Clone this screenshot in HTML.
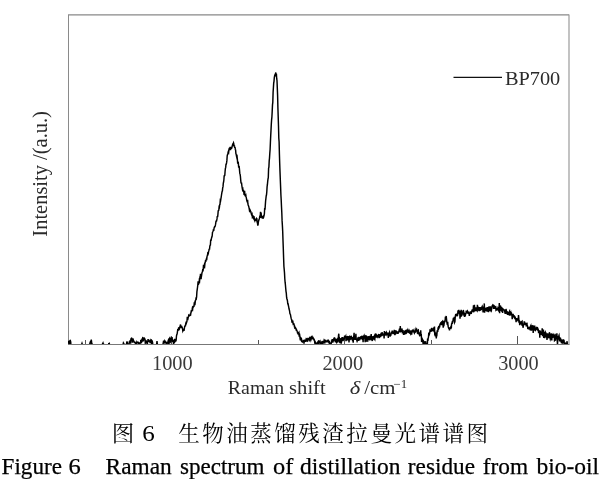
<!DOCTYPE html>
<html><head><meta charset="utf-8"><style>
html,body{margin:0;padding:0;background:#fff;}
body{width:600px;height:479px;overflow:hidden;position:relative;}
svg{position:absolute;left:0;top:0;}
.t{font-family:"Liberation Serif","Noto Serif CJK SC",serif;fill:#000;filter:grayscale(1);}
</style></head><body>
<svg width="600" height="479" viewBox="0 0 600 479">
<defs><clipPath id="c"><rect x="68" y="14" width="501" height="330"/></clipPath></defs>
<g fill="none" stroke-linecap="butt">
<line x1="68.5" y1="14.9" x2="569" y2="14.9" stroke="#888" stroke-width="1.1"/>
<line x1="68.5" y1="14.4" x2="68.5" y2="344.5" stroke="#8a8a8a" stroke-width="1"/>
<line x1="569" y1="14.4" x2="569" y2="344.5" stroke="#9a9a9a" stroke-width="1.2"/>
<line x1="68" y1="344.5" x2="569.5" y2="344.5" stroke="#777" stroke-width="1"/>
<g stroke="#555" stroke-width="1">
<line x1="171.5" y1="344" x2="171.5" y2="336"/>
<line x1="344.5" y1="344" x2="344.5" y2="336"/>
<line x1="517.5" y1="344" x2="517.5" y2="336"/>
<line x1="85.5" y1="344" x2="85.5" y2="340"/>
<line x1="258.5" y1="344" x2="258.5" y2="340"/>
<line x1="431.5" y1="344" x2="431.5" y2="340"/>
</g>
<polyline clip-path="url(#c)" points="68.5,343.9 68.8,340.8 69.1,342.6 69.4,343.0 69.7,343.6 70.0,340.5 70.3,340.4 70.6,341.5 70.9,343.7 71.2,344.6 71.5,345.5 71.8,345.5 72.1,345.5 72.4,345.5 72.7,345.5 73.0,345.5 73.3,345.5 73.6,345.5 73.9,345.5 74.2,345.5 74.5,345.5 74.8,345.5 75.1,345.5 75.4,345.5 75.7,345.5 76.0,345.5 76.3,345.5 76.6,345.5 76.9,345.5 77.2,345.5 77.5,345.5 77.8,345.5 78.1,345.5 78.4,345.5 78.7,345.5 79.0,345.5 79.3,345.5 79.6,345.5 79.9,345.5 80.2,345.5 80.5,345.5 80.8,345.5 81.1,345.5 81.4,344.9 81.7,344.2 82.0,343.3 82.3,344.3 82.6,344.9 82.9,345.5 83.2,345.5 83.5,345.5 83.8,345.5 84.1,345.5 84.4,345.5 84.7,345.5 85.0,345.5 85.3,345.5 85.6,345.5 85.9,345.5 86.2,345.5 86.5,345.5 86.8,345.5 87.1,345.5 87.4,345.5 87.7,345.5 88.0,345.5 88.3,345.5 88.6,345.5 88.9,345.5 89.2,344.8 89.5,344.2 89.8,344.0 90.1,342.5 90.4,341.8 90.7,342.1 91.0,342.7 91.3,339.6 91.6,342.2 91.9,343.2 92.2,344.6 92.5,345.5 92.8,345.5 93.1,345.5 93.4,345.5 93.7,345.5 94.0,345.5 94.3,345.5 94.6,345.5 94.9,345.5 95.2,345.5 95.5,345.5 95.8,345.5 96.1,345.5 96.4,345.5 96.7,345.5 97.0,345.5 97.3,345.5 97.6,345.5 97.9,345.5 98.2,345.5 98.5,345.5 98.8,345.5 99.1,345.5 99.4,345.5 99.7,345.5 100.0,345.5 100.3,345.5 100.6,345.5 100.9,345.5 101.2,345.5 101.5,345.5 101.8,345.5 102.1,344.7 102.4,344.2 102.7,343.5 103.0,342.9 103.3,344.0 103.6,344.1 103.9,344.7 104.2,345.5 104.5,345.5 104.8,345.5 105.1,345.5 105.4,345.5 105.7,345.5 106.0,345.5 106.3,345.5 106.6,345.5 106.9,345.5 107.2,345.5 107.5,345.5 107.8,345.5 108.1,344.7 108.4,344.6 108.7,343.8 109.0,344.0 109.3,343.6 109.6,344.5 109.9,344.7 110.2,345.5 110.5,345.5 110.8,345.5 111.1,345.5 111.4,345.5 111.7,345.5 112.0,345.5 112.3,345.5 112.6,345.5 112.9,345.5 113.2,345.5 113.5,345.5 113.8,345.5 114.1,345.5 114.4,345.5 114.7,345.5 115.0,345.5 115.3,345.5 115.6,345.5 115.9,345.5 116.2,345.5 116.5,345.5 116.8,345.5 117.1,345.5 117.4,345.5 117.7,345.5 118.0,345.5 118.3,345.5 118.6,345.5 118.9,345.5 119.2,345.5 119.5,345.5 119.8,345.5 120.1,345.5 120.4,345.5 120.7,345.5 121.0,345.5 121.3,345.5 121.6,345.5 121.9,345.5 122.2,345.5 122.5,345.5 122.8,344.7 123.1,344.4 123.4,342.9 123.7,343.4 124.0,343.8 124.3,345.3 124.6,345.5 124.9,345.5 125.2,345.5 125.5,345.5 125.8,345.5 126.1,345.5 126.4,344.3 126.7,342.7 127.0,341.4 127.3,342.7 127.6,344.1 127.9,345.5 128.2,345.5 128.5,344.7 128.8,344.0 129.1,343.5 129.4,341.4 129.7,343.3 130.0,340.8 130.3,340.6 130.6,343.7 130.9,338.9 131.2,338.5 131.5,339.7 131.8,339.3 132.1,339.0 132.4,342.7 132.7,340.4 133.0,340.6 133.3,339.8 133.6,340.5 133.9,341.0 134.2,342.2 134.5,342.2 134.8,342.5 135.1,342.4 135.4,343.5 135.7,344.3 136.0,343.8 136.3,343.1 136.6,343.9 136.9,342.0 137.2,342.5 137.5,342.3 137.8,342.3 138.1,342.3 138.4,343.1 138.7,344.5 139.0,343.6 139.3,344.2 139.6,344.2 139.9,343.3 140.2,342.2 140.5,343.7 140.8,339.8 141.1,341.7 141.4,343.2 141.7,341.4 142.0,338.6 142.3,341.7 142.6,338.3 142.9,337.0 143.2,339.5 143.5,340.3 143.8,339.8 144.1,338.7 144.4,338.4 144.7,339.2 145.0,339.2 145.3,343.2 145.6,342.7 145.9,342.1 146.2,340.3 146.5,342.3 146.8,341.1 147.1,344.2 147.4,343.6 147.7,342.0 148.0,339.8 148.3,339.8 148.6,340.0 148.9,341.9 149.2,340.9 149.5,341.2 149.8,341.3 150.1,343.2 150.4,339.9 150.7,342.7 151.0,339.8 151.3,340.0 151.6,344.2 151.9,341.7 152.2,341.3 152.5,342.2 152.8,343.9 153.1,344.8 153.4,345.5 153.7,345.5 154.0,345.5 154.3,345.5 154.6,345.5 154.9,345.5 155.2,345.5 155.5,345.5 155.8,345.5 156.1,345.5 156.4,344.5 156.7,343.8 157.0,341.1 157.3,343.8 157.6,344.4 157.9,345.5 158.2,345.5 158.5,345.5 158.8,345.5 159.1,345.5 159.4,345.5 159.7,345.5 160.0,345.5 160.3,345.5 160.6,345.5 160.9,345.5 161.2,345.5 161.5,345.5 161.8,345.5 162.1,345.5 162.4,345.5 162.7,345.3 163.0,344.3 163.3,342.6 163.6,340.6 163.9,343.4 164.2,341.0 164.5,341.9 164.8,340.8 165.1,341.3 165.4,342.9 165.7,341.5 166.0,343.2 166.3,344.5 166.6,344.6 166.9,343.4 167.2,342.7 167.5,342.4 167.8,342.8 168.1,341.1 168.4,341.2 168.7,338.5 169.0,344.4 169.3,338.8 169.6,338.3 169.9,342.6 170.2,337.8 170.5,338.7 170.8,337.7 171.1,341.1 171.4,340.5 171.7,340.3 172.0,337.0 172.3,339.3 172.6,340.8 172.9,340.6 173.2,341.7 173.5,343.6 173.8,343.2 174.1,339.9 174.4,342.0 174.7,338.8 175.0,341.7 175.3,341.3 175.6,339.3 175.9,341.4 176.2,339.4 176.5,335.8 176.8,334.6 177.1,334.1 177.4,332.2 177.7,330.0 178.0,330.2 178.3,330.1 178.6,327.9 178.9,327.7 179.2,327.8 179.5,328.5 179.8,326.8 180.1,326.5 180.4,324.5 180.7,325.4 181.0,326.5 181.3,328.2 181.6,325.8 181.9,327.1 182.2,327.6 182.5,328.6 182.8,330.9 183.1,330.2 183.4,331.1 183.7,328.9 184.0,330.9 184.3,329.0 184.6,326.9 184.9,326.0 185.2,325.5 185.5,325.6 185.8,323.4 186.1,323.6 186.4,321.3 186.7,322.1 187.0,321.1 187.3,316.8 187.6,318.7 187.9,319.0 188.2,317.4 188.5,316.5 188.8,315.1 189.1,315.4 189.4,316.4 189.7,314.7 190.0,315.9 190.3,314.5 190.6,314.7 190.9,312.8 191.2,311.3 191.5,311.6 191.8,311.1 192.1,309.7 192.4,308.1 192.7,308.8 193.0,306.4 193.3,307.6 193.6,305.9 193.9,307.0 194.2,303.7 194.5,304.0 194.8,302.6 195.1,303.2 195.4,300.7 195.7,299.9 196.0,298.5 196.3,298.8 196.6,297.0 196.9,291.9 197.2,289.6 197.5,287.5 197.8,285.0 198.1,281.4 198.4,283.5 198.7,283.8 199.0,283.1 199.3,280.3 199.6,280.9 199.9,277.4 200.2,277.5 200.5,273.9 200.8,275.7 201.1,279.2 201.4,273.9 201.7,274.7 202.0,272.7 202.3,271.9 202.6,270.5 202.9,270.9 203.2,270.2 203.5,264.7 203.8,268.5 204.1,267.1 204.4,265.1 204.7,265.8 205.0,262.9 205.3,262.1 205.6,260.2 205.9,261.7 206.2,259.4 206.5,258.6 206.8,258.9 207.1,256.0 207.4,255.7 207.7,253.9 208.0,254.4 208.3,253.6 208.6,251.4 208.9,250.5 209.2,248.8 209.5,249.7 209.8,246.4 210.1,245.2 210.4,245.0 210.7,239.5 211.0,240.8 211.3,239.2 211.6,237.6 211.9,236.9 212.2,235.8 212.5,232.3 212.8,231.8 213.1,231.0 213.4,229.5 213.7,230.8 214.0,228.7 214.3,227.3 214.6,226.8 214.9,226.8 215.2,226.1 215.5,224.7 215.8,222.7 216.1,220.5 216.4,221.6 216.7,220.3 217.0,218.9 217.3,216.0 217.6,217.2 217.9,214.6 218.2,210.9 218.5,210.6 218.8,210.2 219.1,206.9 219.4,207.2 219.7,204.7 220.0,204.4 220.3,200.3 220.6,200.7 220.9,198.9 221.2,197.1 221.5,195.0 221.8,193.2 222.1,191.4 222.4,190.9 222.7,187.7 223.0,186.9 223.3,183.1 223.6,182.0 223.9,179.8 224.2,175.2 224.5,175.9 224.8,175.4 225.1,171.2 225.4,168.5 225.7,167.4 226.0,164.2 226.3,164.1 226.6,162.7 226.9,160.4 227.2,155.8 227.5,154.6 227.8,154.3 228.1,152.1 228.4,151.3 228.7,152.0 229.0,149.3 229.3,149.4 229.6,147.5 229.9,149.3 230.2,146.9 230.5,150.1 230.8,146.7 231.1,148.4 231.4,148.4 231.7,148.3 232.0,147.1 232.3,145.7 232.6,144.7 232.9,145.0 233.2,143.6 233.5,142.8 233.8,143.9 234.1,146.5 234.4,145.3 234.7,147.9 235.0,147.0 235.3,149.2 235.6,149.9 235.9,153.6 236.2,154.4 236.5,156.2 236.8,157.5 237.1,156.8 237.4,159.6 237.7,163.6 238.0,161.6 238.3,162.7 238.6,166.3 238.9,166.0 239.2,166.4 239.5,169.9 239.8,173.4 240.1,174.2 240.4,176.3 240.7,179.9 241.0,182.8 241.3,183.3 241.6,183.3 241.9,186.0 242.2,187.8 242.5,189.5 242.8,189.0 243.1,191.7 243.4,190.0 243.7,191.3 244.0,194.0 244.3,193.8 244.6,190.8 244.9,195.2 245.2,195.7 245.5,195.5 245.8,195.0 246.1,196.9 246.4,198.2 246.7,200.2 247.0,201.2 247.3,200.8 247.6,199.8 247.9,204.0 248.2,205.3 248.5,205.7 248.8,206.8 249.1,208.1 249.4,210.0 249.7,209.2 250.0,209.8 250.3,211.4 250.6,211.2 250.9,211.7 251.2,213.3 251.5,214.6 251.8,215.2 252.1,214.5 252.4,217.4 252.7,217.1 253.0,215.4 253.3,218.0 253.6,218.5 253.9,216.2 254.2,217.6 254.5,220.0 254.8,220.7 255.1,219.6 255.4,220.1 255.7,220.2 256.0,220.4 256.3,219.1 256.6,218.4 256.9,218.8 257.2,222.4 257.5,223.1 257.8,225.6 258.1,224.7 258.4,221.7 258.7,220.6 259.0,219.5 259.3,218.7 259.6,217.6 259.9,215.7 260.2,217.9 260.5,211.9 260.8,216.6 261.1,212.5 261.4,216.9 261.7,217.3 262.0,215.9 262.3,217.1 262.6,218.7 262.9,217.0 263.2,218.7 263.5,215.5 263.8,216.4 264.1,215.3 264.4,213.5 264.7,208.0 265.0,209.6 265.3,205.4 265.6,201.0 265.9,198.6 266.2,196.0 266.5,194.8 266.8,191.7 267.1,186.6 267.4,184.7 267.7,181.4 268.0,179.0 268.3,177.7 268.6,168.2 268.9,167.1 269.2,160.9 269.5,158.1 269.8,153.2 270.1,149.5 270.4,142.6 270.7,136.0 271.0,130.4 271.3,124.3 271.6,119.8 271.9,117.0 272.2,111.4 272.5,104.9 272.8,102.4 273.1,92.3 273.4,87.7 273.7,83.2 274.0,81.3 274.3,77.7 274.6,76.0 274.9,75.0 275.2,75.3 275.5,73.6 275.8,72.5 276.1,74.9 276.4,73.9 276.7,78.7 277.0,80.5 277.3,87.9 277.6,95.4 277.9,107.7 278.2,116.8 278.5,125.9 278.8,138.1 279.1,141.7 279.4,153.4 279.7,163.3 280.0,171.6 280.3,179.3 280.6,186.9 280.9,194.7 281.2,200.0 281.5,206.8 281.8,212.8 282.1,220.9 282.4,225.6 282.7,231.5 283.0,240.4 283.3,248.5 283.6,257.7 283.9,266.2 284.2,269.4 284.5,272.9 284.8,278.8 285.1,282.2 285.4,284.7 285.7,288.2 286.0,291.3 286.3,293.1 286.6,297.2 286.9,299.1 287.2,299.6 287.5,301.1 287.8,304.4 288.1,303.4 288.4,305.8 288.7,306.9 289.0,308.8 289.3,309.8 289.6,311.2 289.9,313.6 290.2,314.2 290.5,314.7 290.8,316.6 291.1,318.2 291.4,319.2 291.7,319.9 292.0,322.8 292.3,321.3 292.6,322.1 292.9,321.8 293.2,324.0 293.5,323.7 293.8,323.7 294.1,324.7 294.4,326.5 294.7,326.4 295.0,329.0 295.3,327.5 295.6,327.9 295.9,328.4 296.2,329.9 296.5,329.6 296.8,330.2 297.1,331.1 297.4,332.3 297.7,333.6 298.0,331.9 298.3,334.8 298.6,333.5 298.9,332.9 299.2,336.8 299.5,333.7 299.8,335.9 300.1,338.8 300.4,340.4 300.7,338.5 301.0,339.3 301.3,340.3 301.6,339.4 301.9,340.8 302.2,341.1 302.5,341.8 302.8,341.4 303.1,341.1 303.4,340.9 303.7,341.4 304.0,343.7 304.3,340.7 304.6,340.9 304.9,339.8 305.2,341.8 305.5,340.7 305.8,340.1 306.1,339.1 306.4,339.5 306.7,341.6 307.0,339.8 307.3,340.4 307.6,339.4 307.9,340.1 308.2,339.2 308.5,339.4 308.8,338.6 309.1,338.7 309.4,338.2 309.7,339.9 310.0,339.3 310.3,338.0 310.6,338.5 310.9,340.0 311.2,339.1 311.5,336.8 311.8,336.5 312.1,338.7 312.4,337.9 312.7,338.4 313.0,337.7 313.3,338.2 313.6,338.7 313.9,339.7 314.2,339.5 314.5,340.3 314.8,343.6 315.1,342.8 315.4,344.0 315.7,342.7 316.0,343.2 316.3,343.2 316.6,344.9 316.9,343.9 317.2,343.7 317.5,342.9 317.8,344.0 318.1,345.0 318.4,344.1 318.7,340.2 319.0,342.0 319.3,342.1 319.6,341.8 319.9,342.8 320.2,341.9 320.5,343.1 320.8,343.0 321.1,343.6 321.4,342.8 321.7,343.4 322.0,343.4 322.3,341.6 322.6,341.7 322.9,344.1 323.2,340.7 323.5,341.4 323.8,343.1 324.1,340.7 324.4,341.3 324.7,340.7 325.0,342.1 325.3,341.2 325.6,339.9 325.9,341.6 326.2,340.7 326.5,342.4 326.8,341.4 327.1,340.9 327.4,340.6 327.7,341.1 328.0,341.6 328.3,339.7 328.6,341.0 328.9,342.4 329.2,340.8 329.5,343.2 329.8,343.1 330.1,344.8 330.4,343.9 330.7,342.6 331.0,343.9 331.3,343.2 331.6,340.3 331.9,341.9 332.2,339.2 332.5,341.3 332.8,342.5 333.1,340.9 333.4,340.0 333.7,341.4 334.0,339.4 334.3,338.1 334.6,338.0 334.9,338.8 335.2,339.0 335.5,342.4 335.8,340.1 336.1,341.8 336.4,338.8 336.7,341.9 337.0,341.3 337.3,339.9 337.6,340.8 337.9,341.6 338.2,340.9 338.5,335.5 338.8,333.7 339.1,339.6 339.4,339.1 339.7,342.1 340.0,343.1 340.3,338.2 340.6,340.1 340.9,340.3 341.2,343.6 341.5,341.8 341.8,337.4 342.1,338.7 342.4,341.2 342.7,337.0 343.0,340.0 343.3,337.8 343.6,339.9 343.9,339.6 344.2,339.1 344.5,336.8 344.8,337.3 345.1,337.1 345.4,336.9 345.7,336.3 346.0,341.1 346.3,337.2 346.6,340.2 346.9,336.9 347.2,336.8 347.5,340.3 347.8,338.5 348.1,340.3 348.4,336.8 348.7,336.7 349.0,342.4 349.3,337.6 349.6,337.0 349.9,340.1 350.2,337.0 350.5,337.7 350.8,336.7 351.1,336.5 351.4,339.5 351.7,338.7 352.0,337.8 352.3,338.3 352.6,341.3 352.9,337.0 353.2,342.7 353.5,337.6 353.8,336.1 354.1,332.9 354.4,339.6 354.7,336.5 355.0,339.9 355.3,335.6 355.6,339.8 355.9,333.7 356.2,339.8 356.5,338.5 356.8,340.3 357.1,341.2 357.4,340.5 357.7,339.2 358.0,337.4 358.3,338.5 358.6,340.9 358.9,336.8 359.2,338.9 359.5,337.8 359.8,340.3 360.1,337.0 360.4,338.9 360.7,337.8 361.0,336.1 361.3,339.2 361.6,336.9 361.9,337.1 362.2,335.7 362.5,339.9 362.8,337.8 363.1,342.3 363.4,336.5 363.7,336.0 364.0,335.5 364.3,338.7 364.6,335.6 364.9,338.2 365.2,342.3 365.5,335.4 365.8,337.9 366.1,336.0 366.4,336.2 366.7,340.2 367.0,342.0 367.3,339.9 367.6,337.5 367.9,337.9 368.2,339.8 368.5,336.9 368.8,336.8 369.1,339.7 369.4,339.2 369.7,339.0 370.0,339.2 370.3,335.8 370.6,337.6 370.9,336.7 371.2,334.0 371.5,339.8 371.8,339.8 372.1,339.3 372.4,341.0 372.7,336.7 373.0,336.6 373.3,339.6 373.6,336.4 373.9,337.2 374.2,336.5 374.5,338.9 374.8,339.4 375.1,336.0 375.4,333.5 375.7,334.9 376.0,336.0 376.3,335.5 376.6,337.7 376.9,336.4 377.2,334.8 377.5,336.0 377.8,336.7 378.1,335.4 378.4,335.0 378.7,335.8 379.0,334.1 379.3,338.0 379.6,336.5 379.9,335.1 380.2,334.8 380.5,337.2 380.8,333.6 381.1,334.3 381.4,332.5 381.7,336.2 382.0,332.2 382.3,332.9 382.6,333.9 382.9,334.6 383.2,334.2 383.5,334.3 383.8,334.4 384.1,338.5 384.4,331.0 384.7,333.8 385.0,335.7 385.3,333.2 385.6,335.4 385.9,333.1 386.2,333.4 386.5,332.6 386.8,333.8 387.1,332.7 387.4,335.1 387.7,333.2 388.0,333.3 388.3,337.9 388.6,333.0 388.9,335.7 389.2,333.0 389.5,332.3 389.8,335.1 390.1,336.7 390.4,334.7 390.7,334.3 391.0,334.6 391.3,332.7 391.6,332.3 391.9,333.5 392.2,330.6 392.5,331.9 392.8,332.5 393.1,334.2 393.4,331.6 393.7,334.0 394.0,331.7 394.3,329.9 394.6,333.6 394.9,335.2 395.2,332.7 395.5,334.4 395.8,330.2 396.1,332.8 396.4,331.5 396.7,333.6 397.0,332.2 397.3,332.5 397.6,333.8 397.9,331.3 398.2,333.6 398.5,332.6 398.8,331.7 399.1,330.5 399.4,331.6 399.7,331.6 400.0,331.7 400.3,326.0 400.6,331.0 400.9,331.4 401.2,331.4 401.5,330.3 401.8,328.5 402.1,329.7 402.4,332.2 402.7,331.8 403.0,330.1 403.3,332.6 403.6,331.9 403.9,334.9 404.2,333.6 404.5,333.6 404.8,330.6 405.1,333.5 405.4,333.3 405.7,330.7 406.0,330.0 406.3,333.2 406.6,332.9 406.9,330.2 407.2,330.3 407.5,330.8 407.8,330.0 408.1,331.2 408.4,332.9 408.7,331.3 409.0,330.7 409.3,332.5 409.6,333.4 409.9,330.3 410.2,333.2 410.5,333.7 410.8,330.5 411.1,333.1 411.4,334.1 411.7,334.1 412.0,330.7 412.3,330.3 412.6,330.9 412.9,332.3 413.2,330.7 413.5,330.5 413.8,330.0 414.1,332.0 414.4,333.0 414.7,332.4 415.0,330.6 415.3,332.7 415.6,330.3 415.9,329.2 416.2,330.3 416.5,328.2 416.8,331.7 417.1,330.1 417.4,333.2 417.7,333.4 418.0,330.2 418.3,330.0 418.6,333.1 418.9,332.2 419.2,333.9 419.5,335.1 419.8,334.6 420.1,332.7 420.4,336.1 420.7,330.3 421.0,334.8 421.3,334.8 421.6,341.9 421.9,339.5 422.2,339.1 422.5,342.1 422.8,339.8 423.1,344.0 423.4,340.8 423.7,341.2 424.0,341.5 424.3,342.1 424.6,345.5 424.9,342.8 425.2,344.7 425.5,341.2 425.8,342.7 426.1,344.0 426.4,344.6 426.7,344.7 427.0,342.8 427.3,345.5 427.6,338.6 427.9,340.8 428.2,338.1 428.5,337.1 428.8,332.6 429.1,333.4 429.4,334.1 429.7,333.2 430.0,330.4 430.3,330.7 430.6,329.5 430.9,331.9 431.2,328.5 431.5,329.6 431.8,327.9 432.1,330.1 432.4,331.2 432.7,328.6 433.0,330.2 433.3,329.2 433.6,330.2 433.9,330.0 434.2,332.1 434.5,326.6 434.8,335.5 435.1,331.8 435.4,336.5 435.7,333.0 436.0,334.9 436.3,338.5 436.6,334.2 436.9,334.6 437.2,330.4 437.5,331.5 437.8,331.3 438.1,327.4 438.4,329.9 438.7,326.1 439.0,328.6 439.3,325.6 439.6,327.3 439.9,324.5 440.2,323.9 440.5,323.3 440.8,323.9 441.1,323.9 441.4,325.1 441.7,321.2 442.0,325.3 442.3,321.6 442.6,321.2 442.9,323.1 443.2,327.6 443.5,325.0 443.8,323.1 444.1,323.9 444.4,321.9 444.7,321.2 445.0,322.2 445.3,318.2 445.6,318.5 445.9,317.0 446.2,316.1 446.5,318.8 446.8,321.9 447.1,323.4 447.4,323.0 447.7,321.8 448.0,325.7 448.3,327.0 448.6,328.0 448.9,328.6 449.2,328.7 449.5,330.4 449.8,327.3 450.1,328.2 450.4,328.1 450.7,328.3 451.0,325.9 451.3,328.4 451.6,323.8 451.9,323.7 452.2,322.3 452.5,322.6 452.8,321.6 453.1,319.8 453.4,317.8 453.7,321.0 454.0,320.0 454.3,316.9 454.6,322.5 454.9,321.9 455.2,317.8 455.5,315.2 455.8,314.2 456.1,315.9 456.4,313.7 456.7,315.5 457.0,315.8 457.3,315.4 457.6,315.3 457.9,311.5 458.2,311.8 458.5,312.9 458.8,309.9 459.1,312.6 459.4,314.1 459.7,310.9 460.0,318.7 460.3,314.8 460.6,313.2 460.9,317.0 461.2,309.9 461.5,316.2 461.8,314.5 462.1,314.6 462.4,311.4 462.7,312.5 463.0,313.0 463.3,310.0 463.6,311.5 463.9,315.6 464.2,312.5 464.5,316.9 464.8,315.6 465.1,314.7 465.4,315.1 465.7,313.8 466.0,312.7 466.3,310.6 466.6,311.9 466.9,312.4 467.2,312.0 467.5,311.1 467.8,311.7 468.1,313.8 468.4,312.1 468.7,312.1 469.0,313.3 469.3,315.8 469.6,314.1 469.9,313.9 470.2,313.1 470.5,311.3 470.8,313.9 471.1,312.9 471.4,313.1 471.7,311.7 472.0,310.8 472.3,309.3 472.6,310.3 472.9,310.9 473.2,309.6 473.5,305.4 473.8,312.2 474.1,309.9 474.4,304.8 474.7,308.3 475.0,309.8 475.3,310.6 475.6,310.5 475.9,307.4 476.2,311.0 476.5,310.1 476.8,310.4 477.1,310.8 477.4,304.7 477.7,308.0 478.0,307.9 478.3,307.7 478.6,310.8 478.9,307.6 479.2,311.1 479.5,307.0 479.8,310.6 480.1,307.1 480.4,308.9 480.7,309.4 481.0,307.3 481.3,309.8 481.6,308.2 481.9,307.1 482.2,306.5 482.5,307.8 482.8,309.0 483.1,312.4 483.4,308.9 483.7,306.5 484.0,309.6 484.3,303.4 484.6,312.8 484.9,308.3 485.2,309.2 485.5,309.7 485.8,308.4 486.1,308.3 486.4,310.8 486.7,308.7 487.0,311.8 487.3,308.6 487.6,307.2 487.9,309.7 488.2,311.1 488.5,312.1 488.8,306.5 489.1,307.9 489.4,309.6 489.7,311.2 490.0,309.6 490.3,306.4 490.6,309.9 490.9,310.6 491.2,308.9 491.5,309.6 491.8,307.2 492.1,306.0 492.4,305.5 492.7,306.8 493.0,305.0 493.3,306.5 493.6,309.0 493.9,305.6 494.2,306.0 494.5,306.1 494.8,308.9 495.1,307.0 495.4,306.8 495.7,306.7 496.0,310.2 496.3,309.9 496.6,308.0 496.9,309.2 497.2,307.8 497.5,309.9 497.8,309.8 498.1,307.9 498.4,308.3 498.7,310.2 499.0,309.7 499.3,303.0 499.6,313.2 499.9,305.4 500.2,306.9 500.5,305.6 500.8,309.9 501.1,310.3 501.4,306.8 501.7,310.8 502.0,307.7 502.3,308.8 502.6,313.0 502.9,309.7 503.2,309.1 503.5,309.4 503.8,309.8 504.1,309.9 504.4,310.2 504.7,311.6 505.0,311.0 505.3,313.9 505.6,312.8 505.9,310.2 506.2,309.9 506.5,311.5 506.8,313.2 507.1,313.0 507.4,312.6 507.7,314.8 508.0,313.7 508.3,312.0 508.6,315.2 508.9,312.7 509.2,311.7 509.5,311.2 509.8,315.6 510.1,314.2 510.4,312.6 510.7,312.2 511.0,315.5 511.3,312.3 511.6,313.7 511.9,314.8 512.2,319.2 512.5,316.4 512.8,315.3 513.1,313.8 513.4,316.4 513.7,316.7 514.0,316.4 514.3,317.7 514.6,318.1 514.9,316.8 515.2,317.3 515.5,318.7 515.8,319.1 516.1,322.1 516.4,318.9 516.7,318.8 517.0,320.7 517.3,318.3 517.6,320.5 517.9,319.6 518.2,321.3 518.5,315.1 518.8,318.4 519.1,323.0 519.4,320.4 519.7,325.1 520.0,322.3 520.3,324.5 520.6,321.2 520.9,322.8 521.2,322.4 521.5,323.3 521.8,321.7 522.1,321.4 522.4,325.9 522.7,323.6 523.0,327.8 523.3,326.2 523.6,323.6 523.9,324.6 524.2,321.4 524.5,323.3 524.8,323.0 525.1,325.1 525.4,323.6 525.7,324.9 526.0,322.9 526.3,325.9 526.6,325.8 526.9,322.7 527.2,324.9 527.5,326.0 527.8,329.0 528.1,326.8 528.4,329.3 528.7,327.5 529.0,327.4 529.3,327.9 529.6,328.8 529.9,329.3 530.2,328.2 530.5,326.3 530.8,325.7 531.1,328.8 531.4,330.5 531.7,329.1 532.0,325.2 532.3,327.0 532.6,330.1 532.9,327.5 533.2,333.0 533.5,326.4 533.8,326.7 534.1,329.9 534.4,328.1 534.7,325.6 535.0,330.4 535.3,330.5 535.6,327.4 535.9,328.1 536.2,328.9 536.5,328.3 536.8,327.5 537.1,327.6 537.4,329.6 537.7,330.0 538.0,328.9 538.3,329.6 538.6,333.1 538.9,331.8 539.2,332.2 539.5,330.4 539.8,337.8 540.1,330.7 540.4,331.5 540.7,333.9 541.0,333.7 541.3,334.9 541.6,332.6 541.9,332.5 542.2,328.4 542.5,336.1 542.8,333.8 543.1,332.6 543.4,329.6 543.7,338.0 544.0,331.8 544.3,333.5 544.6,338.3 544.9,332.8 545.2,332.3 545.5,337.4 545.8,332.4 546.1,336.0 546.4,335.0 546.7,336.5 547.0,339.9 547.3,333.3 547.6,338.5 547.9,336.0 548.2,335.2 548.5,336.1 548.8,333.9 549.1,338.1 549.4,332.2 549.7,334.6 550.0,337.7 550.3,339.2 550.6,338.3 550.9,338.3 551.2,333.3 551.5,335.6 551.8,340.5 552.1,335.5 552.4,333.9 552.7,337.9 553.0,336.5 553.3,334.7 553.6,335.3 553.9,336.9 554.2,335.2 554.5,340.7 554.8,340.4 555.1,333.9 555.4,340.6 555.7,338.3 556.0,336.3 556.3,338.1 556.6,336.2 556.9,333.2 557.2,339.9 557.5,345.0 557.8,337.9 558.1,338.3 558.4,336.5 558.7,336.1 559.0,335.4 559.3,338.2 559.6,341.4 559.9,337.3 560.2,341.0 560.5,337.8 560.8,341.6 561.1,339.2 561.4,343.3 561.7,341.5 562.0,342.2 562.3,339.6 562.6,341.8 562.9,339.9 563.2,343.4 563.5,340.1 563.8,340.2 564.1,340.7 564.4,345.0 564.7,344.1 565.0,342.5 565.3,344.7 565.6,343.2 565.9,343.1 566.2,345.5 566.5,345.5 566.8,343.9 567.1,341.2 567.4,345.5 567.7,345.2" stroke="#000" stroke-width="1.45" stroke-linejoin="miter"/>
<line x1="453.5" y1="77.4" x2="502" y2="77.4" stroke="#111" stroke-width="1.1"/>
</g>
<g class="t">
<text x="151.96" y="369.5" font-size="21" fill="#3a3a3a" textLength="40.69" lengthAdjust="spacingAndGlyphs">1000</text>
<text x="322.41" y="369.5" font-size="21" fill="#3a3a3a" textLength="40.86" lengthAdjust="spacingAndGlyphs">2000</text>
<text x="498.15" y="369.5" font-size="21" fill="#3a3a3a" textLength="40.52" lengthAdjust="spacingAndGlyphs">3000</text>
<text x="227.83" y="393.5" font-size="19.5" fill="#2a2a2a" textLength="56.23" lengthAdjust="spacingAndGlyphs">Raman</text>
<text x="289.14" y="393.5" font-size="19.5" fill="#2a2a2a" textLength="36.52" lengthAdjust="spacingAndGlyphs">shift</text>
<text x="349.76" y="393.5" font-size="19.5" font-style="italic" fill="#2a2a2a" textLength="10.55" lengthAdjust="spacingAndGlyphs">δ</text>
<text x="364.29" y="393.5" font-size="19.5" fill="#2a2a2a" textLength="31.17" lengthAdjust="spacingAndGlyphs">/cm</text>
<text x="393.52" y="387.5" font-size="12" fill="#2a2a2a" textLength="13.79" lengthAdjust="spacingAndGlyphs">−1</text>
<text x="504.92" y="84.5" font-size="19.5" fill="#2a2a2a" textLength="55.32" lengthAdjust="spacingAndGlyphs">BP700</text>
<text x="111.72" y="440.5" font-size="21.5" font-weight="400" textLength="22.55" lengthAdjust="spacingAndGlyphs">图</text>
<text x="142.27" y="441" font-size="23" textLength="12.53" lengthAdjust="spacingAndGlyphs">6</text>
<text x="178.15" y="440.5" font-size="21.5" font-weight="400" textLength="309.88" lengthAdjust="spacing">生物油蒸馏残渣拉曼光谱谱图</text>
<text x="1.55" y="473.5" font-size="23" stroke="#000" stroke-width="0.25" textLength="60.38" lengthAdjust="spacingAndGlyphs">Figure</text>
<text x="68.43" y="473.5" font-size="23" stroke="#000" stroke-width="0.25" textLength="12.25" lengthAdjust="spacingAndGlyphs">6</text>
<text x="105.55" y="473.5" font-size="23" stroke="#000" stroke-width="0.25" textLength="66.17" lengthAdjust="spacingAndGlyphs">Raman</text>
<text x="179.99" y="473.5" font-size="23" stroke="#000" stroke-width="0.25" textLength="84.43" lengthAdjust="spacingAndGlyphs">spectrum</text>
<text x="273.11" y="473.5" font-size="23" stroke="#000" stroke-width="0.25" textLength="20.29" lengthAdjust="spacingAndGlyphs">of</text>
<text x="300.14" y="473.5" font-size="23" stroke="#000" stroke-width="0.25" textLength="100.3" lengthAdjust="spacingAndGlyphs">distillation</text>
<text x="407.89" y="473.5" font-size="23" stroke="#000" stroke-width="0.25" textLength="67.1" lengthAdjust="spacingAndGlyphs">residue</text>
<text x="482.85" y="473.5" font-size="23" stroke="#000" stroke-width="0.25" textLength="45.32" lengthAdjust="spacingAndGlyphs">from</text>
<text x="536.5" y="473.5" font-size="23" stroke="#000" stroke-width="0.25" textLength="62.54" lengthAdjust="spacingAndGlyphs">bio-oil</text>
<text transform="translate(47,236.65) rotate(-90)" font-size="20.8" fill="#2a2a2a" textLength="125.57" lengthAdjust="spacingAndGlyphs">Intensity /(a.u.)</text>
</g>
</svg>
</body></html>
